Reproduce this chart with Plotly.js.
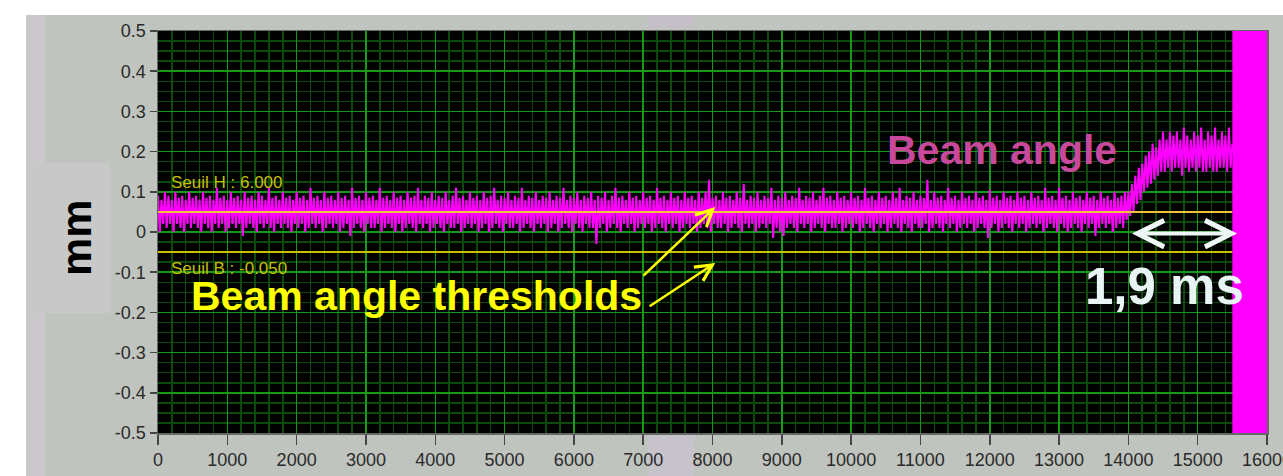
<!DOCTYPE html>
<html>
<head>
<meta charset="utf-8">
<script src="https://cdn.plot.ly/plotly-3.0.1.min.js"></script>
<style>
html,body{margin:0;padding:0;background:#ffffff;}
#chart{width:1283px;height:476px;}
</style>
</head>
<body>
<div id="chart"></div>
<script>
// ---- data ----
const sampleStep = 25;              // x spacing of the samples
const beamAngle = [
// 0 - 475
0.09,0.00,0.08,0.02,0.10,0.01,0.09,0.02,0.08,0.00,0.10,0.02,0.085,0.01,0.09,0.00,0.08,0.02,0.10,0.01,
// 500 - 975
0.085,0.02,0.09,0.01,0.08,0.00,0.10,0.02,0.085,0.01,0.09,0.00,0.08,0.02,0.11,0.01,0.085,0.02,0.09,0.00,
// 1000
0.08,0.01,0.10,0.02,0.085,0.01,0.09,0.02,0.08,-0.01,0.10,0.01,0.085,0.02,0.09,0.01,0.08,0.00,0.10,0.02,
// 1500
0.09,0.01,0.08,0.02,0.11,0.01,0.085,0.00,0.09,0.02,0.08,0.01,0.10,0.02,0.085,0.01,0.09,0.00,0.08,0.02,
// 2000
0.10,0.01,0.085,0.02,0.09,0.00,0.08,0.01,0.11,0.02,0.085,0.01,0.09,0.02,0.08,0.00,0.10,0.01,0.085,0.02,
// 2500
0.09,0.01,0.08,0.02,0.10,0.00,0.085,0.01,0.09,0.02,0.08,-0.01,0.11,0.01,0.085,0.02,0.09,0.01,0.08,0.00,
// 3000
0.10,0.02,0.085,0.01,0.09,0.01,0.08,0.02,0.11,0.00,0.085,0.01,0.09,0.02,0.08,0.01,0.10,0.00,0.085,0.02,
// 3500
0.09,0.00,0.08,0.01,0.10,0.02,0.085,0.01,0.09,0.00,0.11,0.02,0.08,0.01,0.09,0.02,0.085,0.00,0.10,0.01,
// 4000
0.08,0.02,0.09,0.01,0.085,0.00,0.10,0.02,0.08,0.01,0.09,0.01,0.11,0.02,0.085,0.00,0.09,0.01,0.08,0.02,
// 4500
0.10,0.01,0.085,0.02,0.09,0.00,0.08,0.01,0.10,0.02,0.085,0.00,0.09,0.01,0.11,0.02,0.08,0.01,0.09,0.00,
// 5000
0.085,0.02,0.10,0.01,0.08,0.01,0.09,0.02,0.085,0.00,0.11,0.01,0.08,0.02,0.09,0.01,0.085,0.00,0.10,0.02,
// 5500
0.08,0.01,0.09,0.02,0.085,0.00,0.10,0.01,0.08,0.02,0.09,0.00,0.085,0.01,0.11,0.02,0.08,0.01,0.09,0.00,
// 6000
0.085,0.02,0.10,0.01,0.08,0.00,0.09,0.02,0.085,0.01,0.10,0.01,0.08,-0.03,0.09,0.01,0.085,0.02,0.10,0.00,
// 6500
0.08,0.01,0.09,0.02,0.11,0.01,0.085,0.00,0.09,0.02,0.08,0.01,0.10,0.02,0.085,0.00,0.09,0.01,0.08,0.02,
// 7000
0.10,0.01,0.085,0.02,0.09,0.00,0.08,0.01,0.11,0.02,0.085,0.01,0.09,0.00,0.08,0.02,0.10,0.01,0.085,0.02,
// 7500
0.09,0.00,0.08,0.01,0.10,0.02,0.085,0.01,0.09,0.02,0.08,0.00,0.10,0.01,0.085,0.02,0.10,0.01,0.13,0.00,
// 8000
0.085,0.02,0.09,0.01,0.08,0.01,0.10,0.02,0.085,0.00,0.09,0.01,0.08,0.02,0.10,0.01,0.085,0.00,0.12,0.02,
// 8500
0.08,0.01,0.09,0.02,0.085,0.00,0.10,0.01,0.08,0.02,0.09,0.01,0.085,0.02,0.11,-0.015,0.08,0.01,0.09,0.00,
// 9000
0.085,-0.01,0.10,0.01,0.08,0.02,0.09,0.01,0.085,0.00,0.11,0.02,0.08,0.01,0.09,0.02,0.085,0.00,0.10,0.01,
// 9500
0.08,0.02,0.09,0.01,0.11,0.00,0.085,0.02,0.09,0.01,0.08,0.01,0.10,0.02,0.085,0.00,0.09,0.01,0.08,0.02,
// 10000
0.10,0.01,0.085,0.02,0.09,0.00,0.08,0.01,0.11,0.02,0.085,0.01,0.09,0.00,0.08,0.02,0.10,0.01,0.085,0.02,
// 10500
0.09,0.00,0.08,0.01,0.10,0.02,0.085,0.01,0.11,0.00,0.08,0.02,0.09,0.01,0.085,0.00,0.10,0.02,0.08,0.01,
// 11000
0.09,0.01,0.085,0.02,0.13,0.00,0.08,0.01,0.10,0.02,0.085,0.01,0.09,0.00,0.08,0.02,0.11,0.01,0.085,0.02,
// 11500
0.09,0.00,0.08,0.01,0.10,0.02,0.085,0.01,0.09,0.02,0.08,0.00,0.10,0.01,0.085,0.02,0.09,0.01,0.08,-0.015,
// 12000
0.105,0.01,0.085,0.02,0.09,0.00,0.08,0.01,0.10,0.02,0.085,0.01,0.09,0.00,0.08,0.02,0.10,0.01,0.085,0.02,
// 12500
0.09,0.00,0.08,0.01,0.10,0.02,0.085,0.01,0.09,0.02,0.08,0.00,0.11,0.01,0.085,0.02,0.09,0.01,0.08,0.00,
// 13000
0.11,0.02,0.085,0.01,0.09,0.00,0.08,0.01,0.10,0.02,0.085,0.01,0.09,0.00,0.08,0.02,0.10,0.01,0.085,0.02,
// 13500
0.09,-0.01,0.08,0.01,0.10,0.02,0.085,0.01,0.09,0.02,0.08,0.00,0.10,0.01,0.085,0.02,0.09,0.01,0.10,0.03,
// 14000 (rise)
0.10,0.04,0.12,0.05,0.14,0.07,0.16,0.08,0.17,0.10,0.19,0.11,0.20,0.12,0.22,0.13,0.21,0.14,0.23,0.15,
// 14500
0.25,0.15,0.23,0.16,0.25,0.15,0.24,0.16,0.25,0.16,0.23,0.14,0.26,0.16,0.24,0.15,0.23,0.16,0.25,0.15,
// 15000
0.24,0.16,0.26,0.15,0.23,0.15,0.25,0.16,0.24,0.15,0.26,0.15,0.23,0.16,0.25,0.16,0.24,0.15,0.26,0.16,
// 15500
0.22
];
const sampleX = beamAngle.map((_, i) => i * sampleStep);

const thresholdX = [0, 15500];
const seuilHaut = [0.05, 0.05];
const seuilBas = [-0.05, -0.05];
const cursorStart = 15500, cursorEnd = 16000;   // magenta cursor band

const xTickVals = [0,1000,2000,3000,4000,5000,6000,7000,8000,9000,10000,11000,12000,13000,14000,15000,16000];
const xTickText = ["0","1000","2000","3000","4000","5000","6000","7000","8000","9000","10000","11000","12000","13000","14000","15000","16000"];
const yTickVals = [0.5,0.4,0.3,0.2,0.1,0,-0.1,-0.2,-0.3,-0.4,-0.5];
const yTickText = ["0.5","0.4","0.3","0.2","0.1","0","-0.1","-0.2","-0.3","-0.4","-0.5"];

// ---- plot ----
const FONT = "Liberation Sans, Arial, Helvetica, sans-serif";
const traces = [
  {x: sampleX, y: beamAngle, type: 'scatter', mode: 'lines',
   line: {color: '#ff00ff', width: 2}, hoverinfo: 'skip'},
  {x: thresholdX, y: seuilHaut, type: 'scatter', mode: 'lines',
   line: {color: '#f2c23a', width: 2}, hoverinfo: 'skip'},
  {x: thresholdX, y: seuilBas, type: 'scatter', mode: 'lines',
   line: {color: '#c8c000', width: 2}, hoverinfo: 'skip'}
];

const px2pX = px => (px - 158) / 1109;
const px2pY = py => (433 - py) / 402;

const shapes = [
  {type:'rect', xref:'paper', yref:'paper', x0:px2pX(0), x1:px2pX(1283), y0:px2pY(15), y1:px2pY(0), fillcolor:'#ffffff', line:{width:0}, layer:'below'},
  {type:'rect', xref:'paper', yref:'paper', x0:px2pX(0), x1:px2pX(26), y0:px2pY(476), y1:px2pY(0), fillcolor:'#ffffff', line:{width:0}, layer:'below'},
  {type:'rect', xref:'paper', yref:'paper', x0:px2pX(26), x1:px2pX(45), y0:px2pY(476), y1:px2pY(15), fillcolor:'#cbc8cc', line:{width:0}, layer:'below'},
  {type:'rect', xref:'paper', yref:'paper', x0:px2pX(648), x1:px2pX(694), y0:px2pY(29), y1:px2pY(15), fillcolor:'#c5c0c8', line:{width:0}, layer:'below'},
  {type:'rect', xref:'paper', yref:'paper', x0:px2pX(648), x1:px2pX(694), y0:px2pY(476), y1:px2pY(435), fillcolor:'#c7c3cb', line:{width:0}, layer:'below'},
  {type:'rect', xref:'paper', yref:'paper', x0:px2pX(33), x1:px2pX(110), y0:px2pY(313), y1:px2pY(163), fillcolor:'#c8c8c8', line:{width:0}, layer:'below'},
  {type:'rect', xref:'x', yref:'paper', x0:cursorStart, x1:cursorEnd, y0:0, y1:1, fillcolor:'#ff00ff', line:{width:0}, layer:'above'}
];

const annotations = [
  {x:173, y:0.122, xref:'x', yref:'y', text:'Seuil H : 6.000', showarrow:false, xanchor:'left', yanchor:'middle',
   borderpad:0, font:{family:FONT, size:17, color:'#c4c000'}},
  {x:173, y:-0.092, xref:'x', yref:'y', text:'Seuil B : -0.050', showarrow:false, xanchor:'left', yanchor:'middle',
   borderpad:0, font:{family:FONT, size:17, color:'#c4c000'}},
  {x:462, y:-0.16, xref:'x', yref:'y', text:'<b>Beam angle thresholds</b>', showarrow:false, xanchor:'left', yanchor:'middle',
   borderpad:0, font:{family:FONT, size:41, color:'#ffff00'}},
  {x:10505, y:0.205, xref:'x', yref:'y', text:'<b>Beam angle</b>', showarrow:false, xanchor:'left', yanchor:'middle',
   borderpad:0, font:{family:FONT, size:41, color:'#c8489c'}},
  {x:13360, y:-0.135, xref:'x', yref:'y', text:'<b>1,9 ms</b>', showarrow:false, xanchor:'left', yanchor:'middle',
   borderpad:0, font:{family:FONT, size:51, color:'#e8f4f4'}},
  {x:8040, y:0.062, ax:6984, ay:-0.112, xref:'x', yref:'y', axref:'x', ayref:'y', text:'', showarrow:true,
   arrowhead:5, arrowsize:1.3, arrowwidth:2.5, arrowcolor:'#ffff00'},
  {x:8040, y:-0.077, ax:7071, ay:-0.187, xref:'x', yref:'y', axref:'x', ayref:'y', text:'', showarrow:true,
   arrowhead:5, arrowsize:1.3, arrowwidth:2.5, arrowcolor:'#ffff00'},
  {x:15570, y:-0.004, ax:14030, ay:-0.004, xref:'x', yref:'y', axref:'x', ayref:'y', text:'', showarrow:true,
   arrowside:'end+start', arrowhead:5, startarrowhead:5, arrowsize:1.3, startarrowsize:1.3, arrowwidth:4, arrowcolor:'#eef6f6'},
  {x:px2pX(76), y:px2pY(238), xref:'paper', yref:'paper', text:'<b>mm</b>', textangle:-90, showarrow:false,
   xanchor:'center', yanchor:'middle', font:{family:FONT, size:43, color:'#000000'}}
];

const layout = {
  width:1283, height:476,
  margin:{l:158, r:16, t:31, b:43, pad:0},
  paper_bgcolor:'#c0c4be',
  plot_bgcolor:'#000000',
  showlegend:false,
  xaxis:{
    range:[0,16000], tickvals:xTickVals, ticktext:xTickText, ticks:'outside', ticklen:10, tickwidth:1.5, tickcolor:'#444',
    ticklabeloverflow:'allow',
    showgrid:true, gridcolor:'#149a14', gridwidth:1.5,
    minor:{dtick:200, tick0:0, showgrid:true, gridcolor:'#0b4a0b', gridwidth:1.5},
    showline:true, linecolor:'#666', linewidth:1.5, mirror:true, zeroline:false,
    tickfont:{family:FONT, size:18, color:'#2a2a2a'}, fixedrange:true
  },
  yaxis:{
    range:[-0.5,0.5], tickvals:yTickVals, ticktext:yTickText, ticks:'outside', ticklen:7, tickwidth:1.5, tickcolor:'#444',
    showgrid:true, gridcolor:'#149a14', gridwidth:1.5,
    minor:{dtick:0.025, tick0:0, showgrid:true, gridcolor:'#0b4a0b', gridwidth:1.5},
    showline:true, linecolor:'#666', linewidth:1.5, mirror:true, zeroline:false,
    tickfont:{family:FONT, size:18, color:'#2a2a2a'}, fixedrange:true
  },
  shapes:shapes,
  annotations:annotations
};

Plotly.newPlot('chart', traces, layout, {displayModeBar:false, staticPlot:true});
</script>
</body>
</html>
